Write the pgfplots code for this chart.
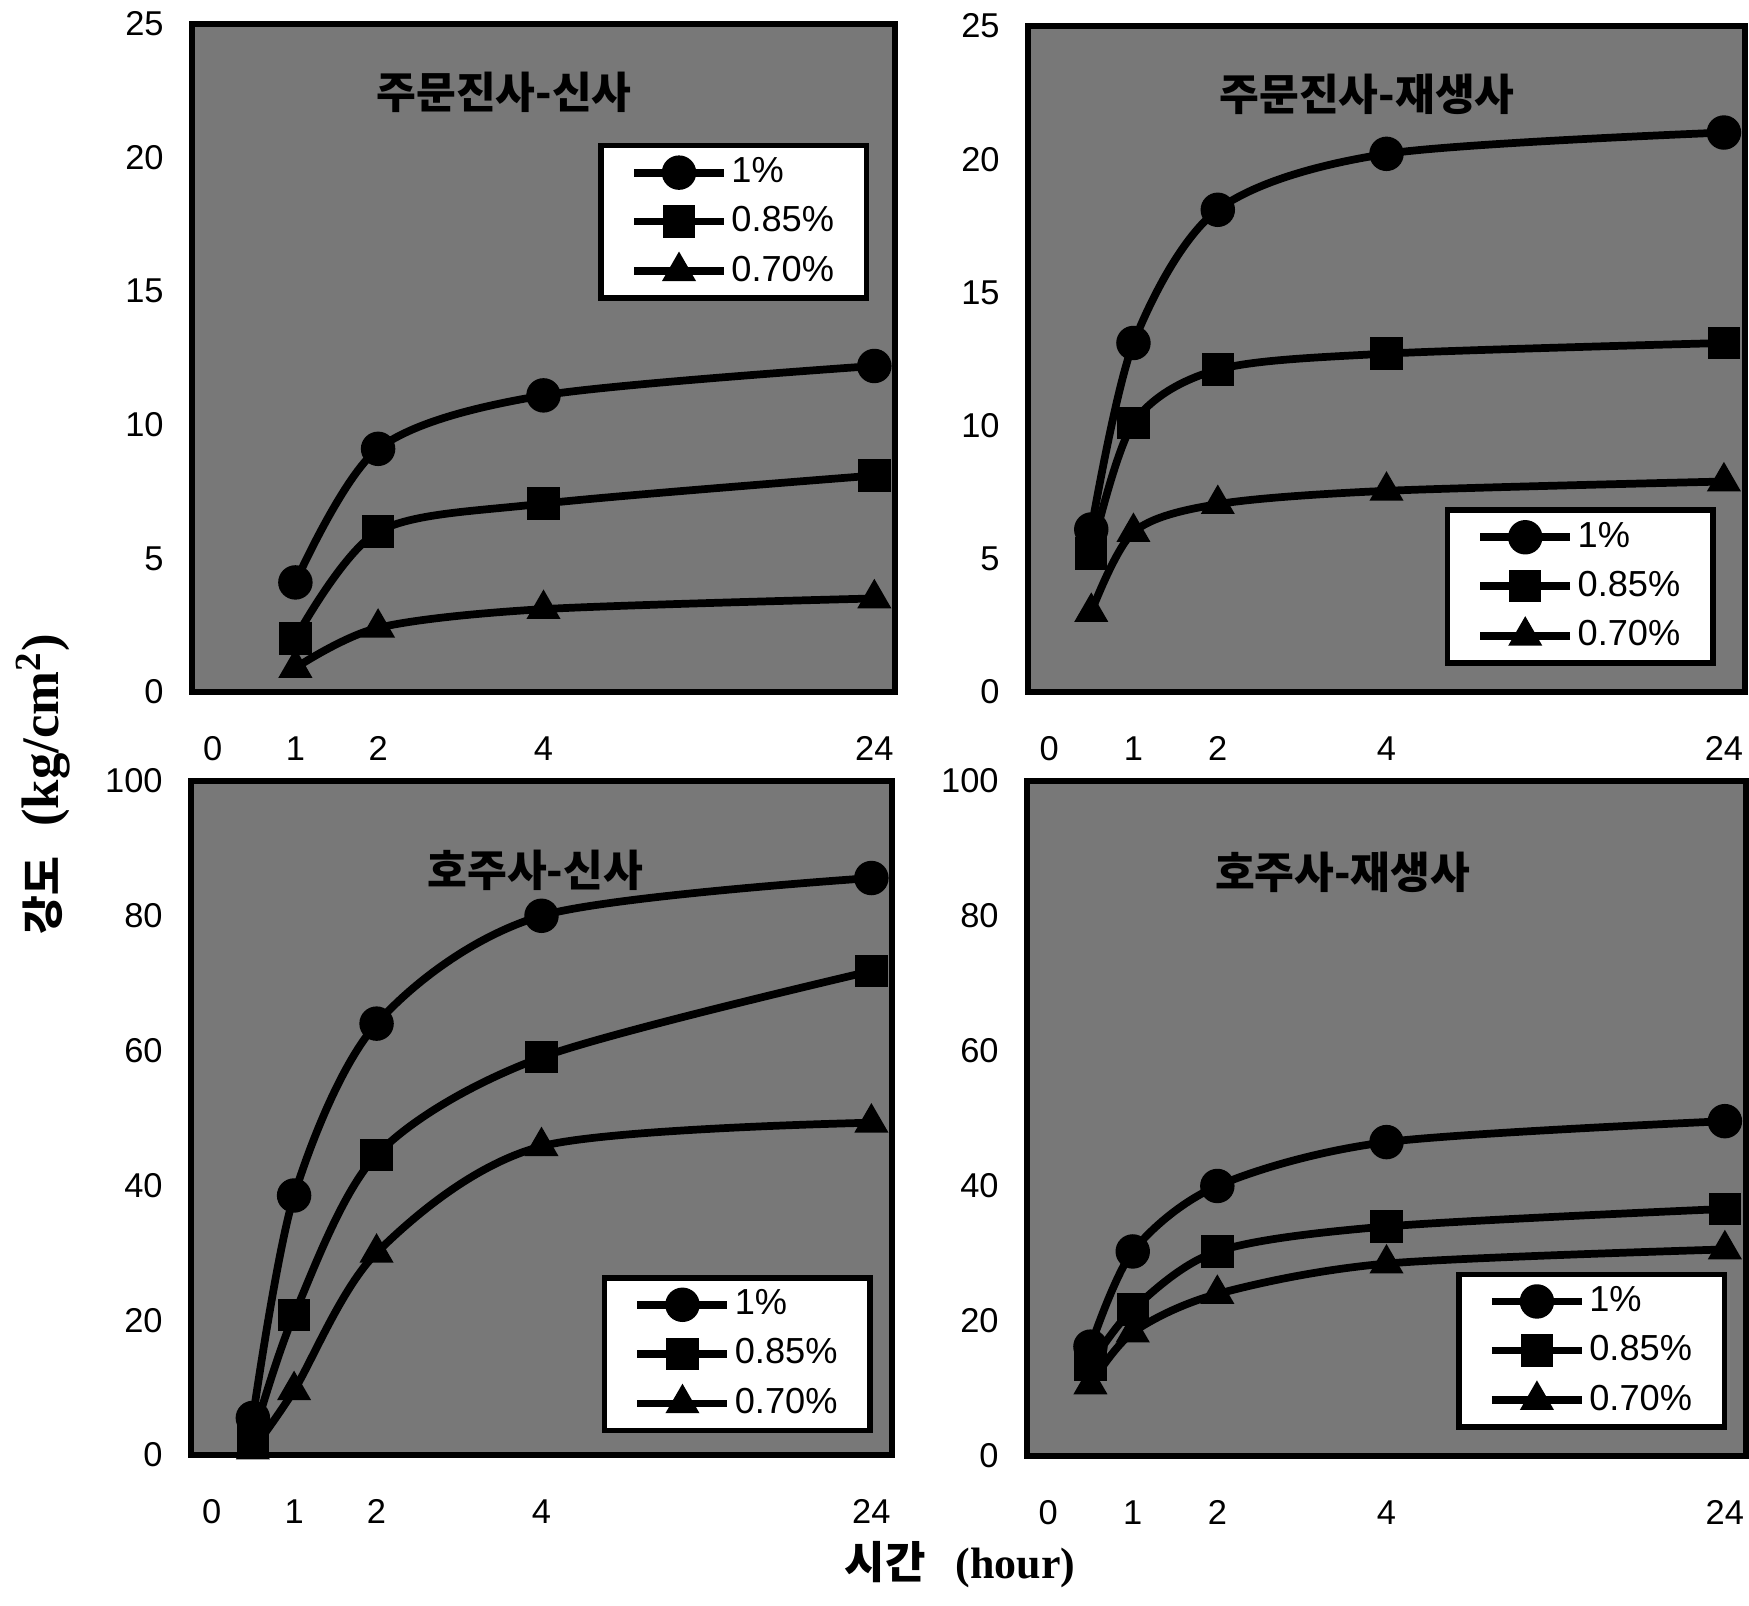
\documentclass[border=0pt]{standalone}
\usepackage{pgfplots}
\pgfplotsset{compat=1.18}
\usepackage{fontspec}
\setmainfont{Liberation Sans}
\newfontfamily\kr{Noto Sans CJK KR}
\newfontfamily\tms{Liberation Serif}

\pgfplotsset{
  panel/.style={
    scale only axis,
    anchor=south west,
    xmin=-0.25, xmax=8.25,
    ymin=0,
    xtick={0,1,2,4,8},
    xticklabels={0,1,2,4,24},
    major tick length=0pt,
    axis line style={line width=1.8pt},
    axis background/.style={fill=black!53},
    tick label style={font=\fontsize{9.8}{11}\selectfont},
    /pgf/number format/assume math mode=true,
    yticklabel style={xshift=-0.16cm},
    xticklabel style={yshift=-0.32cm},
    legend cell align=left,
    legend style={draw=black, line width=1.6pt, fill=white,
      font=\fontsize{10.3}{11}\selectfont, inner xsep=0.29cm, inner ysep=0.1cm,
      row sep=0.15cm, anchor=north west,
      nodes={inner xsep=1pt, inner ysep=0.5pt}},
    legend image code/.code={\draw[mark repeat=2,mark phase=2,##1]
      plot coordinates {(0cm,0cm) (0.45cm,0cm) (0.9cm,0cm)};},
    every axis plot/.append style={black, line width=2.2pt, smooth,
      mark options={solid, fill=black, line width=0.6pt}},
  },
  s1/.style={mark=*, mark size=4.6pt},
  s2/.style={mark=square*, mark size=4.3pt},
  s3/.style={mark=triangle*, mark size=5pt},
}
\tikzset{ttl/.style={font=\kr\bfseries\fontsize{12.3}{14}\selectfont}}

\begin{document}
\begin{tikzpicture}
\path[use as bounding box] (0,0) rectangle (17.49,16.06);

% Jumunjin sand, new sand
\begin{axis}[panel, at={(1.92cm,9.14cm)}, width=7.03cm, height=6.68cm,
  ymax=25, ytick={0,5,...,25}, legend style={at={(0.578,0.822)}}]
\addplot[s1] coordinates {(1,4.1) (2,9.1) (4,11.1) (8,12.2)};
\addplot[s2] coordinates {(1,2.0) (2,6.0) (4,7.05) (8,8.1)};
\addplot[s3] coordinates {(1,0.9) (2,2.4) (4,3.1) (8,3.5)};
\legend{1\%,0.85\%,0.70\%}
\node[ttl] at (rel axis cs:0.444,0.897) {주문진사-신사};
\end{axis}

% Jumunjin sand, reclaimed sand
\begin{axis}[panel, at={(10.28cm,9.14cm)}, width=7.17cm, height=6.66cm,
  ymax=25, ytick={0,5,...,25}, legend style={at={(0.581,0.277)}}]
\addplot[s1] coordinates {(0.5,6.1) (1,13.1) (2,18.1) (4,20.2) (8,21.0)};
\addplot[s2] coordinates {(0.5,5.2) (1,10.1) (2,12.1) (4,12.7) (8,13.1)};
\addplot[s3] coordinates {(0.5,3.0) (1,6.0) (2,7.05) (4,7.55) (8,7.9)};
\legend{1\%,0.85\%,0.70\%}
\node[ttl] at (rel axis cs:0.473,0.898) {주문진사-재생사};
\end{axis}

% Australian sand, new sand
\begin{axis}[panel, at={(1.91cm,1.51cm)}, width=7.01cm, height=6.74cm,
  ymax=100, ytick={0,20,...,100}, legend style={at={(0.586,0.267)}}]
\addplot[s1] coordinates {(0.5,5.5) (1,38.5) (2,64) (4,80) (8,85.6)};
\addplot[s2] coordinates {(0.5,2.5) (1,20.8) (2,44.5) (4,59) (8,71.8)};
\addplot[s3] coordinates {(0.5,0.8) (1,9.6) (2,30) (4,45.8) (8,49.3)};
\legend{1\%,0.85\%,0.70\%}
\node[ttl] at (rel axis cs:0.491,0.868) {호주사-신사};
\end{axis}

% Australian sand, reclaimed sand
\begin{axis}[panel, at={(10.27cm,1.50cm)}, width=7.19cm, height=6.75cm,
  ymax=100, ytick={0,20,...,100}, legend style={at={(0.597,0.273)}}]
\addplot[s1] coordinates {(0.5,16.2) (1,30.3) (2,40) (4,46.5) (8,49.6)};
\addplot[s2] coordinates {(0.5,13.5) (1,21.7) (2,30.3) (4,34) (8,36.6)};
\addplot[s3] coordinates {(0.5,10.6) (1,18.3) (2,24) (4,28.5) (8,30.6)};
\legend{1\%,0.85\%,0.70\%}
\node[ttl] at (rel axis cs:0.439,0.864) {호주사-재생사};
\end{axis}

% shared axis titles
\node[rotate=90] at (0.43,8.22)
  {{\kr\bfseries\fontsize{12}{13}\selectfont 강도}\hspace{0.3cm}{\tms\bfseries\fontsize{15}{16}\selectfont (kg/cm\textsuperscript{2})}};
\node at (9.60,0.41)
  {{\kr\bfseries\fontsize{12.5}{14}\selectfont 시간}\hspace{0.3cm}{\tms\bfseries\fontsize{12.5}{14}\selectfont (hour)}};
\end{tikzpicture}
\end{document}
